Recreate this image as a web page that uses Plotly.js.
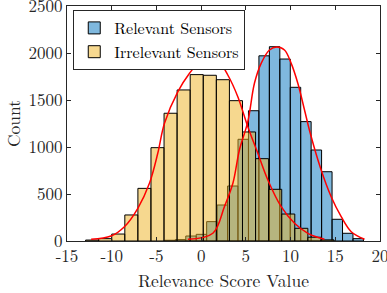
<!DOCTYPE html>
<html><head><meta charset="utf-8">
<script src="https://cdn.plot.ly/plotly-3.0.1.min.js"></script>
<style>html,body{margin:0;padding:0;background:#fff;}#chart{width:387px;height:293px;}</style>
</head><body><div id="chart"></div>
<script>
// Relevant sensors histogram (bin centers and counts)
const relevantCenters = [-3.475, -2.305, -1.135, 0.035, 1.2, 2.365, 3.535, 4.705, 5.875, 7.045, 8.215, 9.385, 10.55, 11.715, 12.885, 14.055, 15.225, 16.395, 17.565];
const relevantCounts  = [8, 15, 53, 71, 206, 383, 585, 1082, 1386, 1970, 2067, 1936, 1635, 1270, 968, 737, 231, 82, 25];
// Irrelevant sensors histogram
const irrelevantCenters = [-12.189, -10.727, -9.265, -7.803, -6.341, -4.879, -3.417, -1.955, -0.493, 0.969, 2.431, 3.893, 5.355, 6.817, 8.279, 9.741, 11.203, 12.665, 14.127];
const irrelevantCounts  = [10, 25, 74, 277, 560, 993, 1359, 1607, 1770, 1763, 1716, 1493, 1160, 876, 550, 287, 135, 40, 12];
// Fitted curves
const irrFitX = [-12.3, -10.07, -8.58, -7.08, -5.78, -4.85, -4.1, -2.6, -1.3, 0, 0.86, 1.86, 2.98, 4.1, 5.22, 6.34, 7.46, 8.95, 10.44, 11.93, 13.79];
const irrFitY = [18, 53, 152, 348, 614, 933, 1252, 1589, 1784, 1926, 1955, 1926, 1766, 1535, 1216, 933, 649, 365, 188, 82, 18];
const relFitX = [-1.49, 1.31, 2.6, 3.55, 4.28, 5.22, 5.96, 6.71, 7.64, 8.45, 9.32, 10.07, 10.81, 11.56, 12.2, 13.42, 14.54, 15.66, 16.78, 18.27];
const relFitY = [18, 82, 365, 614, 968, 1270, 1678, 1890, 2032, 2064, 2032, 1890, 1678, 1394, 1146, 755, 471, 259, 99, 18];
const seriesNames = ["Relevant Sensors", "Irrelevant Sensors"];
const xTickVals = [-15, -10, -5, 0, 5, 10, 15, 20];
const xTickText = ["-15", "-10", "-5", "0", "5", "10", "15", "20"];
const yTickVals = [0, 500, 1000, 1500, 2000, 2500];
const yTickText = ["0", "500", "1000", "1500", "2000", "2500"];

const serif = "Latin Modern Roman, Liberation Serif, serif";
const traces = [
  {type:'bar', x: relevantCenters, y: relevantCounts, width: 1.168, name: seriesNames[0],
   marker:{color:'rgba(0,114,189,0.5)', line:{color:'#000', width:1}}},
  {type:'bar', x: irrelevantCenters, y: irrelevantCounts, width: 1.462, name: seriesNames[1],
   marker:{color:'rgba(237,177,32,0.5)', line:{color:'#000', width:1}}},
  {type:'scatter', mode:'lines', x: irrFitX, y: irrFitY, line:{color:'#ff0000', width:1.5, shape:'spline'}, showlegend:false, hoverinfo:'skip'},
  {type:'scatter', mode:'lines', x: relFitX, y: relFitY, line:{color:'#ff0000', width:1.5, shape:'spline'}, showlegend:false, hoverinfo:'skip'}
];
const layout = {
  width:387, height:293,
  margin:{l:67, r:7, t:6, b:52},
  paper_bgcolor:'#fff', plot_bgcolor:'#fff',
  barmode:'overlay', bargap:0,
  font:{family: serif, size:17, color:'#262626'},
  xaxis:{range:[-15,20], tickmode:'array', tickvals:xTickVals, ticktext:xTickText, ticks:'inside', ticklen:4, tickcolor:'#262626', showline:true, linecolor:'#262626', linewidth:1, mirror:'ticks', showgrid:false, zeroline:false,
    ticklabeloverflow:'allow', title:{text:'Relevance Score Value', font:{family: serif, size:17.5}, standoff:3}, tickfont:{family: serif, size:17}, automargin:false},
  yaxis:{range:[0,2500], tickmode:'array', tickvals:yTickVals, ticktext:yTickText, ticks:'inside', ticklen:4, tickcolor:'#262626', showline:true, linecolor:'#262626', linewidth:1, mirror:'ticks', showgrid:false, zeroline:false,
    ticklabeloverflow:'allow', title:{text:'Count', font:{family: serif, size:17.5}, standoff:4}, tickfont:{family: serif, size:17}, automargin:false},
  legend:{x:0.02, y:0.983, xanchor:'left', yanchor:'top', bgcolor:'#fff', bordercolor:'#262626', borderwidth:1, font:{family: serif, size:16, color:'#000'}, tracegroupgap:0},
  showlegend:true
};
Plotly.newPlot('chart', traces, layout, {staticPlot:true, displayModeBar:false});
</script></body></html>
